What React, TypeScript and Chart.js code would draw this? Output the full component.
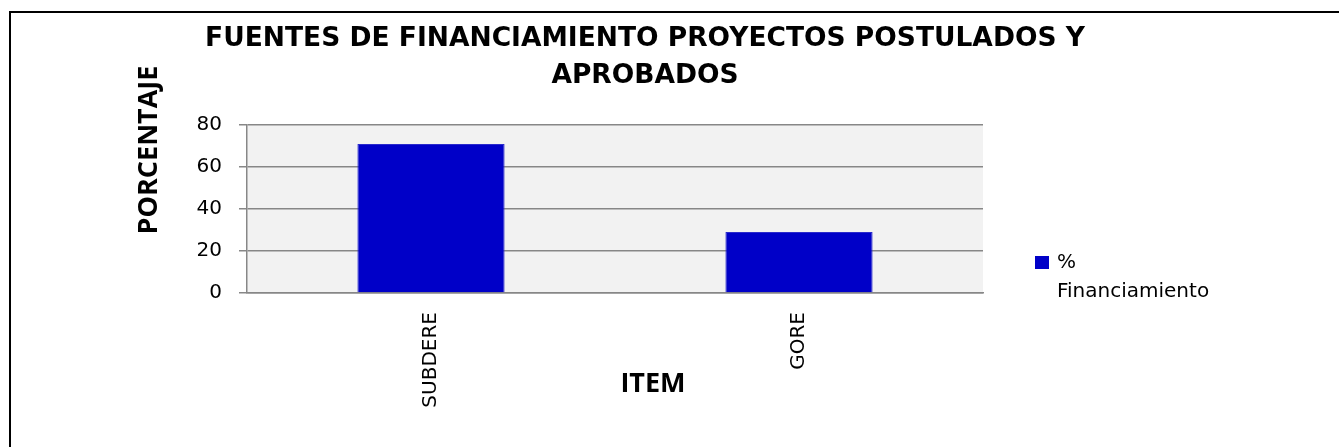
import React, { useEffect, useRef } from 'react';
import { Chart, registerables } from 'chart.js';

Chart.register(...registerables);

const TITLE_LINES = ['FUENTES DE FINANCIAMIENTO PROYECTOS POSTULADOS Y', 'APROBADOS'];
const CATEGORIES = ['SUBDERE', 'GORE'];
const SERIES_LABEL = '% Financiamiento';
const SERIES_VALUES = [71, 29];
const Y_TICKS = [0, 20, 40, 60, 80];
const Y_TITLE = 'PORCENTAJE';
const X_TITLE = 'ITEM';

const BAR_COLOR = '#0000c8';
const BAR_BORDER = '#2a2acc';
const GRID_COLOR = '#878787';
const PLOT_BG = '#f2f2f2';
const BASE_FONT = '"DejaVu Sans", sans-serif';
const AXIS_TITLE_FONT = 'bold 27px "Open Sans", sans-serif';

const CANVAS_W = 1290;
const CANVAS_H = 447;

const plotBg = {
  id: 'plotBg',
  beforeDraw(chart: any) {
    const { ctx, chartArea: a } = chart;
    ctx.save();
    ctx.fillStyle = PLOT_BG;
    ctx.fillRect(a.left, a.top, a.right - a.left, a.bottom - a.top);
    ctx.restore();
  },
};

const axisTitles = {
  id: 'axisTitles',
  afterDraw(chart: any) {
    const { ctx, chartArea: a } = chart;
    ctx.save();
    ctx.fillStyle = '#000';
    ctx.font = AXIS_TITLE_FONT;
    ctx.textAlign = 'center';
    ctx.textBaseline = 'alphabetic';
    // y title (rotated)
    ctx.save();
    ctx.translate(a.left - 90, a.top + 25);
    ctx.rotate(-Math.PI / 2);
    ctx.fillText(Y_TITLE, 0, 0);
    ctx.restore();
    // x title
    ctx.fillText(X_TITLE, (a.left + a.right) / 2 + 38, a.bottom + 98.5);
    ctx.restore();
  },
};

const wrapLegend = {
  id: 'wrapLegend',
  afterDraw(chart: any) {
    const { ctx, chartArea: a } = chart;
    const ds = chart.data.datasets[0];
    const lines = String(ds.label).split(' ');
    const midY = (a.top + a.bottom) / 2;
    ctx.save();
    ctx.fillStyle = ds.backgroundColor;
    ctx.fillRect(a.right + 52, midY + 47, 14, 13);
    ctx.fillStyle = '#000';
    ctx.font = '20px ' + BASE_FONT;
    ctx.textAlign = 'left';
    ctx.textBaseline = 'alphabetic';
    lines.forEach((ln, i) => {
      ctx.fillText(ln, a.right + 74, midY + 59 + i * 29);
    });
    ctx.restore();
  },
};

export default function App() {
  const ref = useRef<HTMLCanvasElement | null>(null);

  useEffect(() => {
    if (!ref.current) return;
    Chart.defaults.font.family = BASE_FONT;
    Chart.defaults.color = '#000';
    const chart = new Chart(ref.current, {
      type: 'bar',
      data: {
        labels: CATEGORIES,
        datasets: [
          {
            label: SERIES_LABEL,
            data: SERIES_VALUES,
            backgroundColor: BAR_COLOR,
            borderColor: BAR_BORDER,
            borderWidth: 1,
            categoryPercentage: 1.0,
            barPercentage: 0.4,
          },
        ],
      },
      options: {
        responsive: false,
        animation: false,
        layout: { padding: 0 },
        plugins: {
          legend: { display: false },
          tooltip: { enabled: false },
          title: {
            display: true,
            text: TITLE_LINES,
            color: '#000',
            font: { family: BASE_FONT, size: 26.5, weight: 'bold', lineHeight: 37 / 26.5 },
            padding: { top: 21, bottom: 30 },
          },
        },
        scales: {
          x: {
            grid: { display: false, drawTicks: false },
            border: { display: true, color: GRID_COLOR, width: 1.5 },
            ticks: {
              font: { size: 20 },
              color: '#000',
              minRotation: 90,
              maxRotation: 90,
              padding: 19,
            },
            afterFit(s: any) {
              s.height = CANVAS_H - 293;
            },
          },
          y: {
            min: Y_TICKS[0],
            max: Y_TICKS[Y_TICKS.length - 1],
            ticks: {
              stepSize: Y_TICKS[1] - Y_TICKS[0],
              font: { size: 20 },
              color: '#000',
              padding: 17,
            },
            grid: { color: GRID_COLOR, lineWidth: 1.5, tickLength: 8, drawTicks: true },
            border: { display: true, color: GRID_COLOR, width: 1.5 },
            afterFit(s: any) {
              s.width = 247;
            },
          },
          yRight: {
            type: 'linear',
            position: 'right',
            display: true,
            grid: { display: false, drawTicks: false },
            border: { display: false },
            ticks: { display: false },
            afterFit(s: any) {
              s.width = CANVAS_W - 983;
            },
          },
        },
      } as any,
      plugins: [plotBg, axisTitles, wrapLegend],
    });
    return () => chart.destroy();
  }, []);

  return (
    <>
      <div
        style={{
          position: 'fixed',
          left: 9,
          top: 11,
          right: 0,
          bottom: 0,
          borderLeft: '2px solid #000',
          borderTop: '2px solid #000',
        }}
      />
      <canvas
        ref={ref}
        width={CANVAS_W}
        height={CANVAS_H}
        style={{ position: 'fixed', left: 0, top: 0, width: CANVAS_W, height: CANVAS_H }}
      />
    </>
  );
}
